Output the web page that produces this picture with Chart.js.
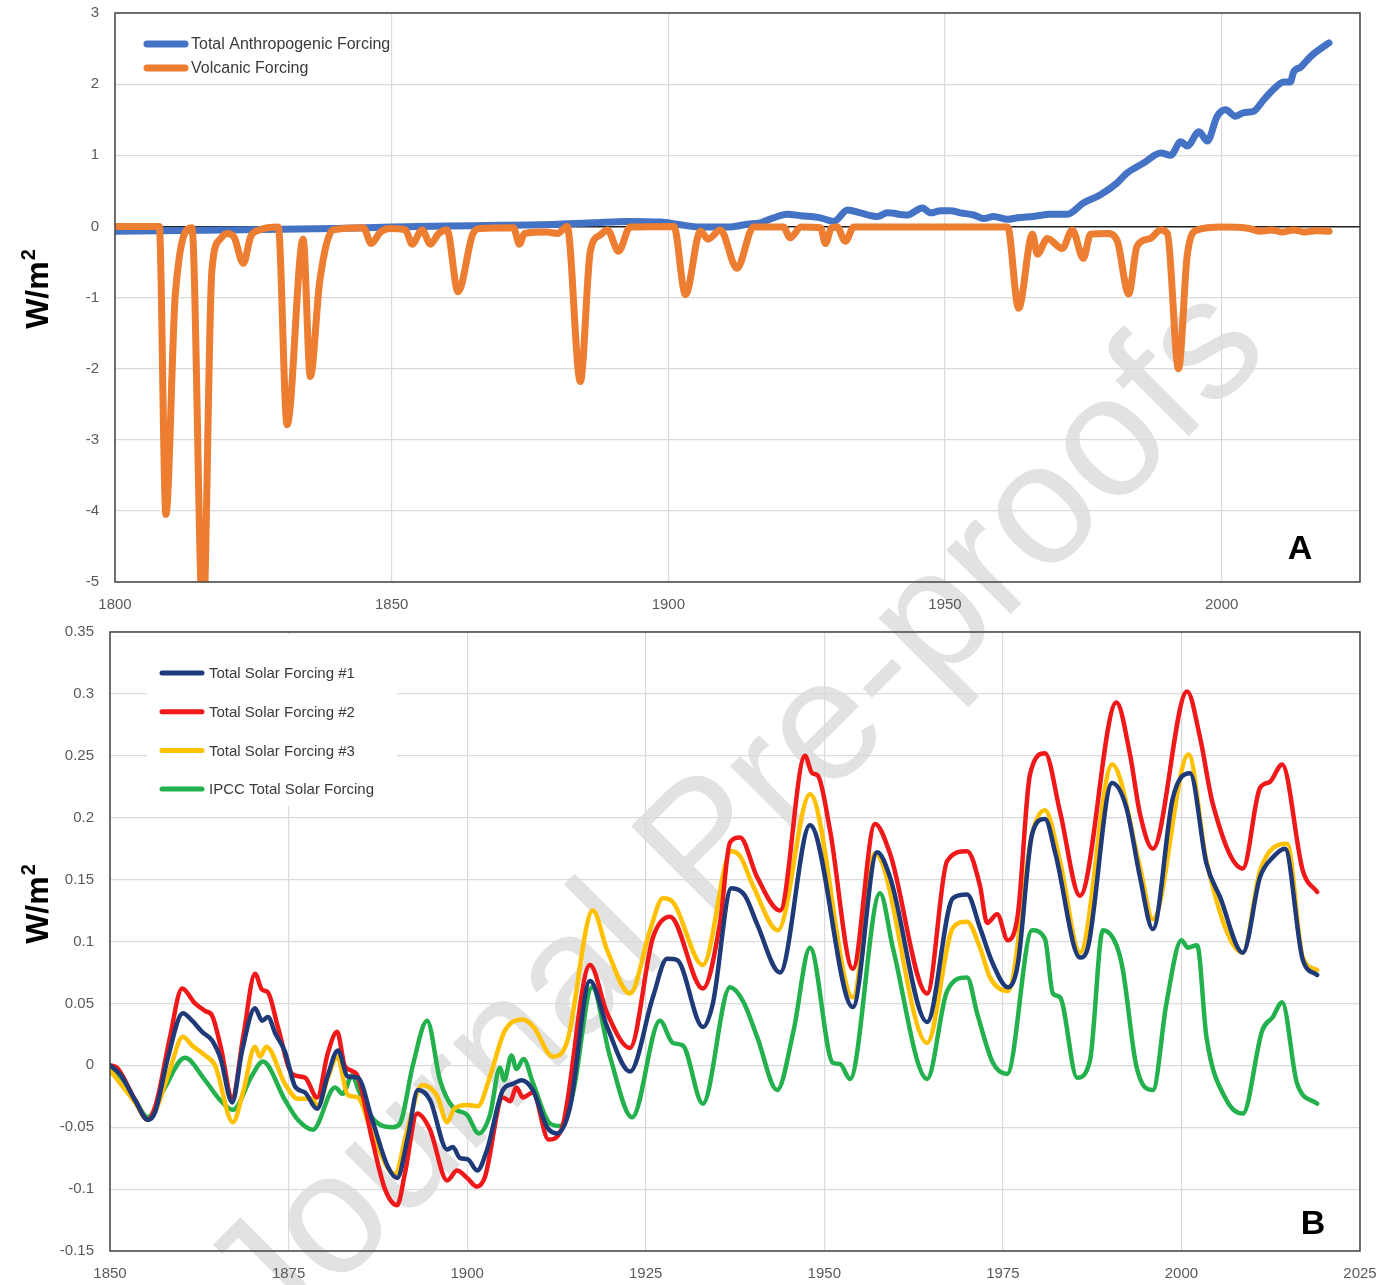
<!DOCTYPE html>
<html>
<head>
<meta charset="utf-8">
<script src="https://cdn.jsdelivr.net/npm/chart.js@4.4.1/dist/chart.umd.min.js"></script>
<style>
  html, body { margin: 0; padding: 0; background: #ffffff; }
  #wrap { position: relative; width: 1395px; height: 1285px; overflow: hidden; }
  #wm {
    position: absolute; left: 730px; top: 810px;
    transform: translate(-50%, -50%) rotate(-45deg);
    font: 172px 'Liberation Sans', Arial, sans-serif;
    color: #e2e2e2; white-space: nowrap; z-index: 0;
  }
  canvas { position: absolute; left: 0; z-index: 1; }
  #forcingTop { top: 0; }
  #forcingBottom { top: 620px; }
</style>
</head>
<body>
<div id="wrap">
  <div id="wm">Journal Pre-proofs</div>
  <canvas id="forcingTop" width="1395" height="620"></canvas>
  <canvas id="forcingBottom" width="1395" height="665"></canvas>
</div>
<script>
// ---------- Panel A: anthropogenic and volcanic forcing (W/m2) ----------
const anthroYears = [1800, 1820, 1840, 1850, 1865, 1880, 1886.4, 1892.6, 1898.6, 1901.6, 1905.8, 1910.7, 1914.3, 1916.6,
  1919, 1921.5, 1923.9, 1927.5, 1929.9, 1932.4, 1934.7, 1937.8, 1939.6, 1943.2, 1945.9, 1947.4, 1949.2, 1951, 1952.8,
  1955.2, 1957, 1958.8, 1961.3, 1963.1, 1966, 1969, 1972.1, 1975, 1978, 1981.1, 1982.9, 1985.9, 1989, 1990.8, 1992.6,
  1993.8, 1995.9, 1997.4, 1999.2, 2000.7, 2002.5, 2004, 2005.8, 2007.6, 2009.4, 2011.2, 2012.4, 2013, 2014.3, 2016.1,
  2017.9, 2019.4];
const anthroValues = [-0.07, -0.05, -0.03, -0.01, 0.01, 0.03, 0.05, 0.07, 0.06, 0.03, -0.01, -0.01, 0.03, 0.05,
  0.12, 0.17, 0.15, 0.12, 0.07, 0.23, 0.19, 0.14, 0.19, 0.16, 0.26, 0.19, 0.22, 0.22, 0.19,
  0.16, 0.11, 0.14, 0.10, 0.12, 0.14, 0.17, 0.17, 0.33, 0.44, 0.61, 0.75, 0.89, 1.03, 1.00, 1.19,
  1.13, 1.33, 1.20, 1.55, 1.64, 1.55, 1.60, 1.62, 1.78, 1.93, 2.03, 2.03, 2.17, 2.24, 2.39,
  2.50, 2.58];

const volcYears = [1800, 1808, 1809.2, 1810.9, 1813.9, 1815.9, 1817.5, 1819, 1820.2, 1821.5, 1823.2, 1824.5, 1826.2,
  1829.5, 1831.1, 1834, 1835.3, 1837, 1839.4, 1844.9, 1846.3, 1848, 1849.7, 1852.5, 1853.7, 1855.5, 1857, 1858.5,
  1860, 1862, 1864.7, 1866, 1872, 1873.1, 1874, 1878, 1880, 1881.7, 1884.1, 1885.9, 1887.7, 1889, 1891, 1893.1,
  1901, 1903.1, 1905.8, 1907.2, 1909.4, 1912.4, 1915.4, 1920.8, 1922, 1924, 1927.5, 1928.4, 1929.5, 1930.5, 1932,
  1933.5, 1961.3, 1963.3, 1965.8, 1966.7, 1968.5, 1971.2, 1973, 1975, 1976.3, 1979.3, 1981.1, 1983.2, 1984.7,
  1987.1, 1989, 1990.2, 1992.2, 1993.8, 1995.6, 2000, 2005, 2007, 2009, 2011, 2013, 2015, 2017, 2019.4];
const volcValues = [0, 0, -4.05, -0.96, -0.02, -5.6, -0.63, -0.18, -0.10, -0.15, -0.52, -0.15, -0.05,
  -0.01, -2.79, -0.18, -2.11, -0.77, -0.05, -0.02, -0.24, -0.08, -0.03, -0.05, -0.25, -0.05, -0.25, -0.10,
  -0.05, -0.92, -0.10, -0.03, -0.02, -0.25, -0.10, -0.08, -0.10, 0, -2.18, -0.35, -0.12, -0.05, -0.35, -0.01,
  0, -0.96, -0.07, -0.18, -0.05, -0.59, -0.01, -0.01, -0.16, -0.01, -0.02, -0.24, -0.02, -0.01, -0.21,
  -0.01, -0.01, -1.15, -0.11, -0.39, -0.17, -0.31, -0.05, -0.45, -0.11, -0.10, -0.20, -0.95, -0.28,
  -0.17, -0.05, -0.10, -2.00, -0.39, -0.05, -0.01, -0.03, -0.07, -0.05, -0.08, -0.05, -0.08, -0.06, -0.07];

// ---------- Panel B: total solar forcing reconstructions (W/m2) ----------
const tsf1Years = [1850, 1851.5, 1853.5, 1855.3, 1856.3, 1858.1, 1860.2, 1861.5, 1862.9, 1864.3, 1865.5, 1867.1, 1868.5,
  1870.3, 1871.3, 1872.1, 1873.2, 1874.5, 1875.9, 1877.3, 1879, 1880.5, 1881.9, 1883.3, 1884.7, 1886.7, 1888.9, 1890.2,
  1891.7, 1893.1, 1894.8, 1897.2, 1898, 1899, 1900.1, 1901.4, 1902.8, 1905, 1906.4, 1907.6, 1909.2, 1911.2, 1912.6,
  1914.4, 1917.2, 1919.6, 1922.8, 1926, 1928, 1929.4, 1933, 1934.4, 1937, 1938.9, 1940.6, 1943.8, 1948, 1954, 1957.4,
  1959.2, 1964.4, 1968, 1970, 1971.8, 1973.6, 1975.7, 1977.1, 1979.1, 1980.9, 1982.4, 1985.8, 1986.9, 1990.3, 1992.3,
  1994.2, 1996, 1998.8, 2001.2, 2003.5, 2005.4, 2008.6, 2011, 2012.8, 2014.5, 2017, 2019];
const tsf1Values = [0.000, -0.008, -0.028, -0.044, -0.038, 0.006, 0.042, 0.036, 0.027, 0.020, 0.005, -0.030, 0.012,
  0.046, 0.036, 0.039, 0.025, 0.011, -0.017, -0.022, -0.035, -0.008, 0.012, -0.009, -0.010, -0.044, -0.082, -0.091,
  -0.058, -0.020, -0.028, -0.068, -0.066, -0.075, -0.076, -0.085, -0.068, -0.020, -0.015, -0.012, -0.020, -0.050, -0.055,
  -0.034, 0.068, 0.031, -0.005, 0.055, 0.086, 0.085, 0.031, 0.050, 0.143, 0.137, 0.114, 0.075, 0.194, 0.047, 0.172,
  0.152, 0.035, 0.135, 0.138, 0.111, 0.082, 0.063, 0.082, 0.187, 0.199, 0.170, 0.087, 0.095, 0.228, 0.208,
  0.152, 0.110, 0.216, 0.236, 0.163, 0.136, 0.091, 0.152, 0.168, 0.175, 0.085, 0.073];

const tsf2Years = [1850, 1851, 1853.5, 1855.3, 1856.5, 1858.3, 1860.1, 1861.9, 1863.3, 1864.3, 1865.5, 1867.1, 1868.7,
  1870.3, 1871.3, 1872.1, 1873.5, 1875.5, 1877.3, 1879, 1880.5, 1881.8, 1882.9, 1884.5, 1886.7, 1888.5, 1890.2, 1891.3,
  1893, 1894.8, 1897.2, 1898.6, 1900, 1901.4, 1902.5, 1905, 1906, 1906.9, 1907.8, 1909.2, 1911.4, 1913.2, 1917.2,
  1919.6, 1922.8, 1926, 1928.4, 1933, 1935.4, 1936.8, 1938.2, 1940.6, 1943.8, 1947.3, 1948.3, 1949.1, 1950.8, 1954,
  1957.1, 1959.2, 1964.4, 1967.2, 1970, 1971.8, 1972.8, 1974.2, 1975.7, 1977.1, 1978.8, 1980.9, 1983, 1985.8, 1990.9,
  1992.8, 1994.2, 1996, 2000.8, 2002.6, 2004.4, 2008.6, 2011, 2012.4, 2014.1, 2017, 2019];
const tsf2Values = [0.000, -0.002, -0.028, -0.044, -0.030, 0.020, 0.062, 0.050, 0.044, 0.040, 0.015, -0.026, 0.025,
  0.074, 0.061, 0.059, 0.031, -0.007, -0.010, -0.026, 0.010, 0.027, -0.001, -0.007, -0.060, -0.100, -0.113, -0.087,
  -0.039, -0.052, -0.093, -0.085, -0.091, -0.098, -0.090, -0.026, -0.029, -0.018, -0.026, -0.022, -0.060, -0.052, 0.081,
  0.042, 0.014, 0.103, 0.120, 0.062, 0.115, 0.180, 0.184, 0.152, 0.125, 0.250, 0.236, 0.234, 0.190, 0.078,
  0.195, 0.171, 0.058, 0.165, 0.173, 0.145, 0.115, 0.122, 0.101, 0.122, 0.235, 0.252, 0.205, 0.137, 0.293,
  0.251, 0.203, 0.175, 0.302, 0.265, 0.211, 0.159, 0.224, 0.229, 0.243, 0.157, 0.140];

const tsf3Years = [1850, 1853.5, 1855.3, 1856.5, 1858.3, 1860.2, 1861.5, 1863.3, 1864.7, 1867.2, 1868.7, 1870.3, 1871,
  1871.9, 1874.5, 1876.3, 1878.3, 1879.1, 1880.5, 1881.8, 1883.3, 1884.7, 1886.7, 1889.9, 1891.5, 1893.7, 1895.8,
  1897.2, 1898.2, 1900, 1901.5, 1903.2, 1905.2, 1907.8, 1909.3, 1912, 1914, 1917.6, 1919.6, 1922.8, 1925.6, 1927.4,
  1928.8, 1933, 1937, 1938.2, 1940.1, 1943.5, 1948, 1954, 1957.1, 1964.4, 1968, 1970, 1971.8, 1973.2, 1975.7, 1979.1,
  1980.9, 1983, 1985.8, 1990.3, 1994.2, 1996, 2001, 2003.5, 2008.6, 2011, 2014.8, 2017, 2019];
const tsf3Values = [-0.004, -0.030, -0.044, -0.035, -0.005, 0.023, 0.016, 0.008, 0.000, -0.046, -0.020, 0.015, 0.007,
  0.015, -0.015, -0.027, -0.027, -0.033, -0.010, 0.007, -0.024, -0.026, -0.055, -0.088, -0.055, -0.016, -0.025,
  -0.046, -0.035, -0.032, -0.033, -0.009, 0.027, 0.037, 0.031, 0.007, 0.019, 0.125, 0.093, 0.058, 0.109, 0.135,
  0.132, 0.081, 0.173, 0.169, 0.144, 0.109, 0.219, 0.055, 0.171, 0.018, 0.111, 0.116, 0.095, 0.071, 0.060, 0.187,
  0.206, 0.165, 0.091, 0.243, 0.160, 0.118, 0.251, 0.165, 0.091, 0.157, 0.179, 0.087, 0.077];

const ipccYears = [1850, 1853.5, 1855.3, 1857.5, 1860.5, 1863.3, 1865.4, 1867.2, 1869.9, 1871.4, 1874.5, 1876.3, 1878.4,
  1881.5, 1882.6, 1883.9, 1884.8, 1886.4, 1887.8, 1889.6, 1890.6, 1892.4, 1894.4, 1896.2, 1898, 1900, 1901.6, 1903.2,
  1904.6, 1905.2, 1906.2, 1906.9, 1907.9, 1909.2, 1911.6, 1913, 1914.8, 1917.5, 1920, 1923.1, 1927, 1928.8, 1930.2,
  1933, 1936.8, 1938.6, 1940.6, 1943.4, 1945.7, 1948, 1951.2, 1952.2, 1953.6, 1957.8, 1959.6, 1964.4, 1967.2, 1970,
  1971.4, 1973.6, 1975.6, 1979.1, 1980.9, 1982, 1983, 1985.4, 1987.2, 1989, 1990.9, 1991.8, 1993.7, 1996, 1997.9,
  2000, 2000.9, 2002.2, 2003.5, 2006.3, 2008.6, 2011.3, 2012.8, 2014.1, 2016.2, 2019];
const ipccValues = [-0.003, -0.028, -0.042, -0.020, 0.006, -0.012, -0.028, -0.036, -0.008, 0.003, -0.028, -0.044, -0.052,
  -0.018, -0.023, -0.008, -0.020, -0.040, -0.048, -0.050, -0.047, 0.000, 0.036, -0.012, -0.034, -0.040, -0.055, -0.040,
  -0.002, -0.012, 0.008, -0.003, 0.005, -0.014, -0.047, -0.049, -0.023, 0.063, 0.007, -0.042, 0.036, 0.018, 0.016,
  -0.031, 0.063, 0.052, 0.023, -0.020, 0.028, 0.095, 0.002, 0.001, -0.011, 0.139, 0.095, -0.011, 0.060, 0.071,
  0.042, 0.002, -0.007, 0.109, 0.102, 0.058, 0.055, -0.010, 0.004, 0.109, 0.097, 0.077, -0.001, -0.020, 0.050,
  0.101, 0.095, 0.097, 0.023, -0.028, -0.039, 0.028, 0.039, 0.051, -0.015, -0.031];

const FONT = "'Liberation Sans', Arial, sans-serif";
Chart.defaults.font.family = FONT;

const toPoints = (xs, ys) => xs.map((x, i) => ({ x, y: ys[i] }));
const trimNum = v => String(+Number(v).toFixed(2));

// Frame, in-plot legend, rotated unit title and panel letter
const panelDecor = {
  id: 'panelDecor',
  beforeDatasetsDraw(chart, args, o) {
    if (!o.legendBox) return;
    const { ctx } = chart;
    const b = o.legendBox;
    ctx.save();
    ctx.fillStyle = '#ffffff';
    ctx.fillRect(b.x, b.y, b.w, b.h);
    ctx.restore();
  },
  afterDraw(chart, args, o) {
    const { ctx, chartArea: a } = chart;
    ctx.save();
    // plot frame
    ctx.strokeStyle = '#454545';
    ctx.lineWidth = 1.5;
    ctx.strokeRect(a.left, a.top, a.right - a.left, a.bottom - a.top);

    // legend
    const L = o.legend;
    ctx.font = L.fontSize + 'px ' + FONT;
    ctx.textBaseline = 'middle';
    ctx.textAlign = 'left';
    chart.data.datasets.forEach((ds, i) => {
      const y = L.y + i * L.gap;
      ctx.strokeStyle = ds.borderColor;
      ctx.lineWidth = L.lineWidth;
      ctx.lineCap = 'round';
      ctx.beginPath();
      ctx.moveTo(L.x, y);
      ctx.lineTo(L.x + L.len, y);
      ctx.stroke();
      ctx.fillStyle = '#3a3a3a';
      ctx.fillText(ds.label, L.x + L.len + L.textGap, y + 1);
    });

    // unit title, rotated
    const t = o.unit;
    ctx.translate(t.x, t.y);
    ctx.rotate(-Math.PI / 2);
    ctx.fillStyle = '#000000';
    ctx.textBaseline = 'alphabetic';
    ctx.font = 'bold 32px ' + FONT;
    const w1 = ctx.measureText('W/m').width;
    ctx.font = 'bold 20px ' + FONT;
    const w2 = ctx.measureText('2').width;
    const x0 = -(w1 + w2 + 1) / 2;
    ctx.font = 'bold 32px ' + FONT;
    ctx.fillText('W/m', x0, 11);
    ctx.font = 'bold 20px ' + FONT;
    ctx.fillText('2', x0 + w1 + 1, -2);
    ctx.setTransform(1, 0, 0, 1, 0, 0);

    // panel letter
    ctx.font = 'bold 34px ' + FONT;
    ctx.textAlign = 'center';
    ctx.textBaseline = 'middle';
    ctx.fillText(o.tag.text, o.tag.x, o.tag.y);
    ctx.restore();
  }
};

const tickFont = { size: 15, family: FONT };
const tickColor = '#5a5a5a';
const gridColor = '#dadada';

// the value axis keeps a fixed width and no extra top/bottom margin for its end labels
const fixValueAxis = width => s => { s.width = width; s.paddingTop = 0; s.paddingBottom = 0; };

// ---------- Panel A ----------
new Chart(document.getElementById('forcingTop'), {
  type: 'line',
  data: {
    datasets: [
      {
        label: 'Total Anthropogenic Forcing',
        data: toPoints(anthroYears, anthroValues),
        borderColor: '#4472C4', borderWidth: 7, order: 1, clip: 0
      },
      {
        label: 'Volcanic Forcing',
        data: toPoints(volcYears, volcValues),
        borderColor: '#ED7D31', borderWidth: 7, order: 0, clip: 0
      }
    ]
  },
  options: {
    responsive: false, animation: false, events: [],
    layout: { padding: { left: 0, right: 35, top: 13, bottom: 0 } },
    elements: {
      point: { radius: 0 },
      line: { cubicInterpolationMode: 'monotone', borderCapStyle: 'round', borderJoinStyle: 'round', fill: false }
    },
    scales: {
      x: {
        type: 'linear', min: 1800, max: 2025,
        ticks: { stepSize: 50, padding: 14, color: tickColor, font: tickFont, maxRotation: 0, autoSkip: false,
                 callback: v => (v % 50 === 0 ? String(v) : '') },
        grid: { color: gridColor, lineWidth: 1.2, drawTicks: false },
        border: { display: false },
        afterFit: s => { s.height = 38; }
      },
      y: {
        type: 'linear', min: -5, max: 3,
        ticks: { stepSize: 1, padding: 16, color: tickColor, font: tickFont, callback: v => trimNum(v) },
        grid: {
          color: c => (c.tick && c.tick.value === 0 ? '#1e1e1e' : gridColor),
          lineWidth: c => (c.tick && c.tick.value === 0 ? 1.6 : 1.2),
          drawTicks: false
        },
        border: { display: false },
        afterFit: fixValueAxis(115)
      }
    },
    plugins: {
      legend: { display: false },
      tooltip: { enabled: false },
      panelDecor: {
        legend: { x: 147, y: 44, gap: 24, len: 38, lineWidth: 7, textGap: 6, fontSize: 16 },
        unit: { x: 37, y: 289 },
        tag: { text: 'A', x: 1300, y: 550 }
      }
    }
  },
  plugins: [panelDecor]
});

// ---------- Panel B ----------
new Chart(document.getElementById('forcingBottom'), {
  type: 'line',
  data: {
    datasets: [
      { label: 'Total Solar Forcing #1', data: toPoints(tsf1Years, tsf1Values), borderColor: '#1F3A78', borderWidth: 4.5 },
      { label: 'Total Solar Forcing #2', data: toPoints(tsf2Years, tsf2Values), borderColor: '#F01818', borderWidth: 4.5 },
      { label: 'Total Solar Forcing #3', data: toPoints(tsf3Years, tsf3Values), borderColor: '#FFC000', borderWidth: 4.5 },
      { label: 'IPCC Total Solar Forcing', data: toPoints(ipccYears, ipccValues), borderColor: '#22B14C', borderWidth: 4.5 }
    ]
  },
  options: {
    responsive: false, animation: false, events: [],
    layout: { padding: { left: 0, right: 35, top: 12, bottom: 0 } },
    elements: {
      point: { radius: 0 },
      line: { cubicInterpolationMode: 'monotone', borderCapStyle: 'round', borderJoinStyle: 'round', fill: false }
    },
    scales: {
      x: {
        type: 'linear', min: 1850, max: 2025,
        ticks: { stepSize: 25, padding: 14, color: tickColor, font: tickFont, maxRotation: 0, autoSkip: false,
                 callback: v => String(v) },
        grid: { color: gridColor, lineWidth: 1.2, drawTicks: false },
        border: { display: false },
        afterFit: s => { s.height = 34; }
      },
      y: {
        type: 'linear', min: -0.15, max: 0.35,
        ticks: { stepSize: 0.05, padding: 16, color: tickColor, font: tickFont, callback: v => trimNum(v) },
        grid: { color: gridColor, lineWidth: 1.2, drawTicks: false },
        border: { display: false },
        afterFit: fixValueAxis(110)
      }
    },
    plugins: {
      legend: { display: false },
      tooltip: { enabled: false },
      panelDecor: {
        legendBox: { x: 147, y: 14, w: 250, h: 172 },
        legend: { x: 162, y: 53, gap: 38.7, len: 40, lineWidth: 5, textGap: 7, fontSize: 15 },
        unit: { x: 37, y: 284 },
        tag: { text: 'B', x: 1313, y: 605 }
      }
    }
  },
  plugins: [panelDecor]
});
</script>
</body>
</html>
